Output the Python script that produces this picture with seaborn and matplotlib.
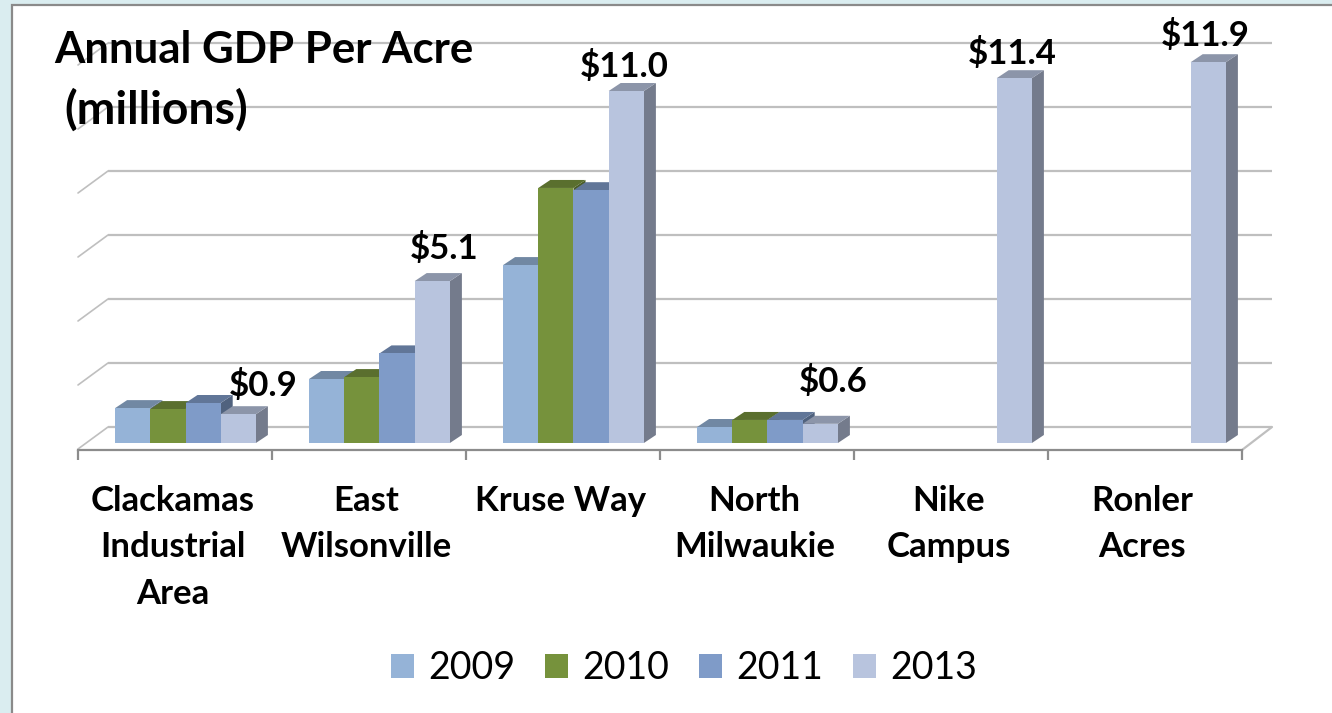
import numpy as np
import pandas as pd
import matplotlib.pyplot as plt
import matplotlib.colors as mcolors
from matplotlib.patches import Polygon, Rectangle
import seaborn as sns

categories = ['Clackamas\nIndustrial\nArea', 'East\nWilsonville', 'Kruse Way',
              'North\nMilwaukie', 'Nike\nCampus', 'Ronler\nAcres']
years = ['2009', '2010', '2011', '2013']
gdp_2009 = [1.09, 2.0, 5.56, 0.5, np.nan, np.nan]
gdp_2010 = [1.06, 2.06, 7.97, 0.72, np.nan, np.nan]
gdp_2011 = [1.25, 2.8, 7.9, 0.72, np.nan, np.nan]
gdp_2013 = [0.9, 5.06, 11.0, 0.6, 11.4, 11.9]
grid_values = [0, 2, 4, 6, 8, 10, 12]
colors = ['#95B3D7', '#76923C', '#7F9BC8', '#B8C4DE']

# pixel sizes of one unit on each axis
PX_X = 1 / 194
PX_Y = 1 / 32
DEPTH_BAR = (12 * PX_X, 8 * PX_Y)
DEPTH_WALL_X = 30 * PX_X
X0 = (78 - 185.5) * PX_X
X1 = (1242 - 185.5) * PX_X

# label offsets from the top of the 2013 bar, in pixels
label_offsets = [(25, 4), (12, 8), (-2, 0), (13, 18), (-2, 0), (-3, 2)]

df = pd.DataFrame({
    'category': categories * 4,
    'year': np.repeat(years, 6),
    'gdp': gdp_2009 + gdp_2010 + gdp_2011 + gdp_2013,
})

sns.set_theme(style='white')
plt.rcParams['font.family'] = ['Lato', 'DejaVu Sans']

fig = plt.figure(figsize=(13.32, 7.13), dpi=100, facecolor='#DAEDF0')
fig.patches.append(Rectangle((12 / 1332, -0.1), 1.1, 1.1 - 5 / 713, transform=fig.transFigure,
                             facecolor='white', edgecolor='#8A8A8A', linewidth=1.6, zorder=-1))
ax = fig.add_axes([78 / 1332, 1 - 450 / 713, (1242 - 78) / 1332, 430 / 713])
ax.patch.set_alpha(0)

sns.barplot(data=df, x='category', y='gdp', hue='year', order=categories, hue_order=years,
            palette=dict(zip(years, colors)), saturation=1, width=4 * 35.2 / 194, gap=0,
            linewidth=0, errorbar=None, ax=ax)

ax.set_xlim(X0, X1)
ax.set_ylim(-7 * PX_Y, 423 * PX_Y)
ax.set_xlabel('')
ax.set_ylabel('')
ax.set_yticks([])

# back wall and floor
for g in grid_values:
    ax.plot([X0 + DEPTH_WALL_X, X1 + DEPTH_WALL_X], [g + 16 * PX_Y] * 2, color='#BFBFBF', lw=1.6,
            zorder=1, clip_on=False, solid_capstyle='butt')
    ax.plot([X0, X0 + DEPTH_WALL_X], [g - 6 * PX_Y, g + 16 * PX_Y], color='#BFBFBF', lw=1.2,
            zorder=1, clip_on=False)
ax.plot([X1, X1 + DEPTH_WALL_X], [-7 * PX_Y, 16 * PX_Y], color='#BFBFBF', lw=1.6, zorder=1, clip_on=False)

# fake the 3d look of each bar
for i, container in enumerate(ax.containers):
    rgb = np.array(mcolors.to_rgb(colors[i]))
    for bar in container:
        h = bar.get_height()
        if not np.isfinite(h) or h <= 0:
            continue
        x, w = bar.get_x(), bar.get_width()
        dx, dy = DEPTH_BAR
        bar.set_zorder(3 + i)
        ax.add_patch(Polygon([(x + w, 0), (x + w + dx, dy), (x + w + dx, h + dy), (x + w, h)],
                             facecolor=rgb * 0.63, edgecolor='none', zorder=2.5 + i, clip_on=False))
        ax.add_patch(Polygon([(x, h), (x + dx, h + dy), (x + w + dx, h + dy), (x + w, h)],
                             facecolor=rgb * 0.76, edgecolor='none', zorder=2.5 + i, clip_on=False))

# data labels on the last series
for bar, (ox, oy) in zip([b for b in ax.containers[-1] if b.get_height() > 0], label_offsets):
    h = bar.get_height()
    ax.annotate(f'${h:.1f}', (bar.get_x() + bar.get_width() / 2 + ox * PX_X, h + DEPTH_BAR[1] + oy * PX_Y),
                ha='center', va='bottom', fontsize=25, fontweight='bold', color='black', zorder=20,
                annotation_clip=False)

# axis: ticks at the category edges, names slightly left of the bars
ax.set_xticks([X0 + k for k in range(7)], labels=[''] * 7)
ax.set_xticks([k - 13 * PX_X for k in range(6)], labels=categories, minor=True)
ax.tick_params(axis='x', which='major', bottom=True, length=7.2, width=1.6, color='#8C8C8C')
ax.tick_params(axis='x', which='minor', bottom=False, length=0, pad=25)
for lab in ax.get_xticklabels(minor=True):
    lab.set_fontsize(25)
    lab.set_fontweight('bold')
    lab.set_color('black')
    lab.set_linespacing(1.56)
sns.despine(ax=ax, left=True)
ax.spines['bottom'].set_color('#8C8C8C')
ax.spines['bottom'].set_linewidth(1.6)

sns.move_legend(ax, 'center', bbox_to_anchor=(684 / 1332, 1 - 668 / 713), bbox_transform=fig.transFigure,
                ncol=4, frameon=False, title=None, fontsize=27, labelcolor='black', handlelength=0.61,
                handleheight=0.61, handletextpad=0.37, columnspacing=0.81)

fig.text(54 / 1332, 1 - 50 / 713, 'Annual GDP Per Acre', fontsize=31.5, fontweight='bold', color='black',
         ha='left', va='center', zorder=30)
fig.text(64 / 1332, 1 - 110 / 713, '(millions)', fontsize=33.3, fontweight='bold', color='black',
         ha='left', va='center', zorder=30)

fig.savefig('out.png', dpi=100, facecolor=fig.get_facecolor())
